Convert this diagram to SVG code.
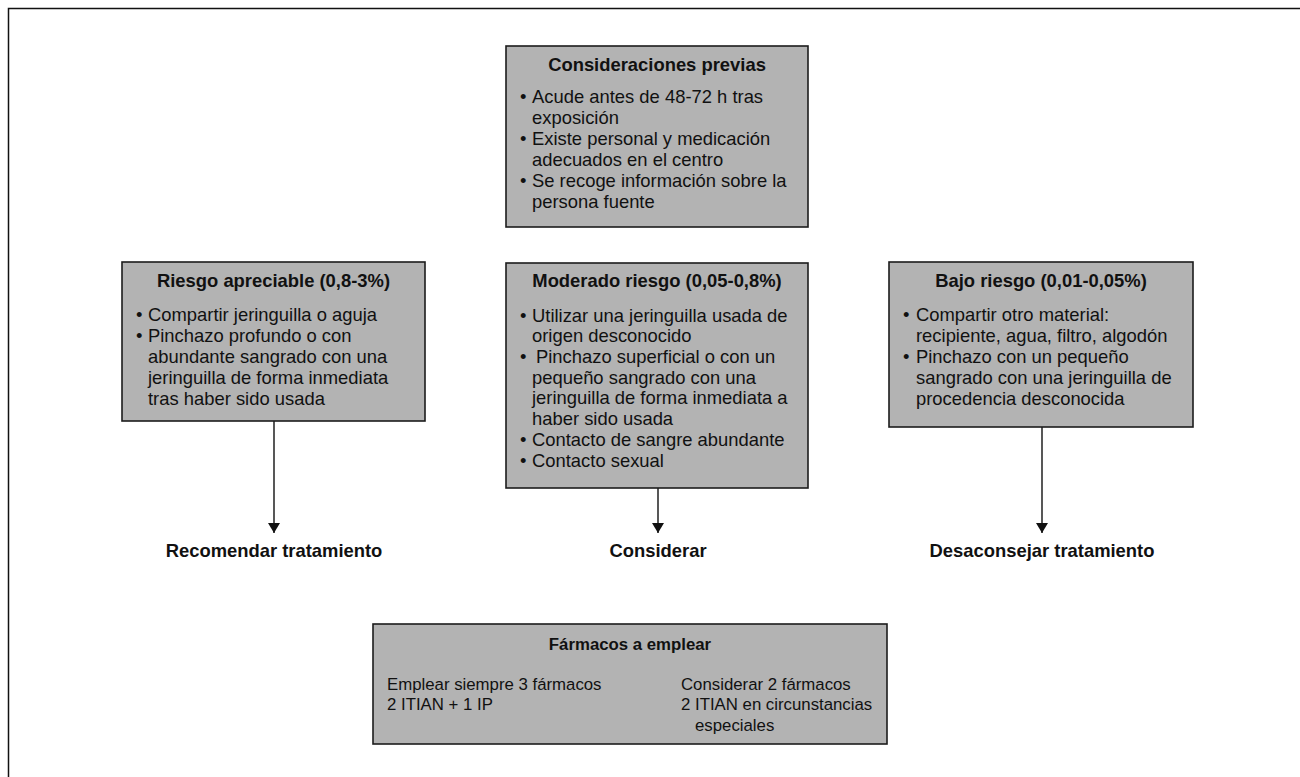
<svg xmlns="http://www.w3.org/2000/svg" width="1300" height="777" viewBox="0 0 1300 777">
<defs>
<style>
.box{fill:#b3b3b3;stroke:#1c1c1c;stroke-width:1.6}
.t{font-family:"Liberation Sans",Arial,Helvetica,sans-serif;font-size:18.4px;fill:#111}
.h{font-family:"Liberation Sans",Arial,Helvetica,sans-serif;font-size:18.4px;font-weight:bold;fill:#111;text-anchor:middle}
.ts{font-family:"Liberation Sans",Arial,Helvetica,sans-serif;font-size:16.8px;fill:#111}
.hs{font-family:"Liberation Sans",Arial,Helvetica,sans-serif;font-size:16.8px;font-weight:bold;fill:#111;text-anchor:middle}
.conn{stroke:#111;stroke-width:1.4;fill:none}
.frame{stroke:#111;stroke-width:1.5;fill:none}
</style>
<marker id="arr" viewBox="0 0 10 12" refX="10" refY="6" markerWidth="10" markerHeight="12" markerUnits="userSpaceOnUse" orient="auto">
<path d="M0,0 L10,6 L0,12 z" fill="#111"/>
</marker>
</defs>
<rect width="1300" height="777" fill="#fff"/>
<path class="frame" d="M8.5,777 L8.5,8.5 L1300,8.5"/>

<g id="connectors">
<line class="conn" x1="274" y1="421" x2="274" y2="533" marker-end="url(#arr)"/>
<line class="conn" x1="658" y1="488" x2="658" y2="533" marker-end="url(#arr)"/>
<line class="conn" x1="1042" y1="427" x2="1042" y2="533" marker-end="url(#arr)"/>
</g>

<g id="consideraciones">
<rect class="box" x="506" y="46" width="302" height="181"/>
<text class="h" x="657" y="71">Consideraciones previas</text>
<text class="t" x="520" y="103">•</text>
<text class="t" x="532" y="103">Acude antes de 48-72 h tras</text>
<text class="t" x="532" y="124">exposición</text>
<text class="t" x="520" y="145">•</text>
<text class="t" x="532" y="145">Existe personal y medicación</text>
<text class="t" x="532" y="166">adecuados en el centro</text>
<text class="t" x="520" y="187">•</text>
<text class="t" x="532" y="187">Se recoge información sobre la</text>
<text class="t" x="532" y="208">persona fuente</text>
</g>

<g id="riesgo-apreciable">
<rect class="box" x="122" y="262" width="303" height="159"/>
<text class="h" x="273.5" y="287">Riesgo apreciable (0,8-3%)</text>
<text class="t" x="136" y="321">•</text>
<text class="t" x="148" y="321">Compartir jeringuilla o aguja</text>
<text class="t" x="136" y="342">•</text>
<text class="t" x="148" y="342">Pinchazo profundo o con</text>
<text class="t" x="148" y="363">abundante sangrado con una</text>
<text class="t" x="148" y="384">jeringuilla de forma inmediata</text>
<text class="t" x="148" y="405">tras haber sido usada</text>
</g>

<g id="moderado-riesgo">
<rect class="box" x="506" y="263" width="302" height="225"/>
<text class="h" x="657" y="287">Moderado riesgo (0,05-0,8%)</text>
<text class="t" x="520" y="321.5">•</text>
<text class="t" x="532" y="321.5">Utilizar una jeringuilla usada de</text>
<text class="t" x="532" y="342.2">origen desconocido</text>
<text class="t" x="520" y="363">•</text>
<text class="t" x="536" y="363">Pinchazo superficial o con un</text>
<text class="t" x="532" y="383.7">pequeño sangrado con una</text>
<text class="t" x="532" y="404.4">jeringuilla de forma inmediata a</text>
<text class="t" x="532" y="425">haber sido usada</text>
<text class="t" x="520" y="445.8">•</text>
<text class="t" x="532" y="445.8">Contacto de sangre abundante</text>
<text class="t" x="520" y="466.5">•</text>
<text class="t" x="532" y="466.5">Contacto sexual</text>
</g>

<g id="bajo-riesgo">
<rect class="box" x="889" y="262" width="304" height="165"/>
<text class="h" x="1041" y="287">Bajo riesgo (0,01-0,05%)</text>
<text class="t" x="903" y="321">•</text>
<text class="t" x="916" y="321">Compartir otro material:</text>
<text class="t" x="916" y="342">recipiente, agua, filtro, algodón</text>
<text class="t" x="903" y="363">•</text>
<text class="t" x="916" y="363">Pinchazo con un pequeño</text>
<text class="t" x="916" y="384">sangrado con una jeringuilla de</text>
<text class="t" x="916" y="405">procedencia desconocida</text>
</g>

<g id="recomendar">
<text class="h" x="274" y="557">Recomendar tratamiento</text>
</g>
<g id="considerar">
<text class="h" x="658" y="557">Considerar</text>
</g>
<g id="desaconsejar">
<text class="h" x="1042" y="557">Desaconsejar tratamiento</text>
</g>

<g id="farmacos">
<rect class="box" x="373" y="624" width="514" height="120"/>
<text class="hs" x="630" y="650">Fármacos a emplear</text>
<text class="ts" x="387" y="690">Emplear siempre 3 fármacos</text>
<text class="ts" x="387" y="710">2 ITIAN + 1 IP</text>
<text class="ts" x="681" y="690">Considerar 2 fármacos</text>
<text class="ts" x="681" y="710">2 ITIAN en circunstancias</text>
<text class="ts" x="695" y="731">especiales</text>
</g>
</svg>
